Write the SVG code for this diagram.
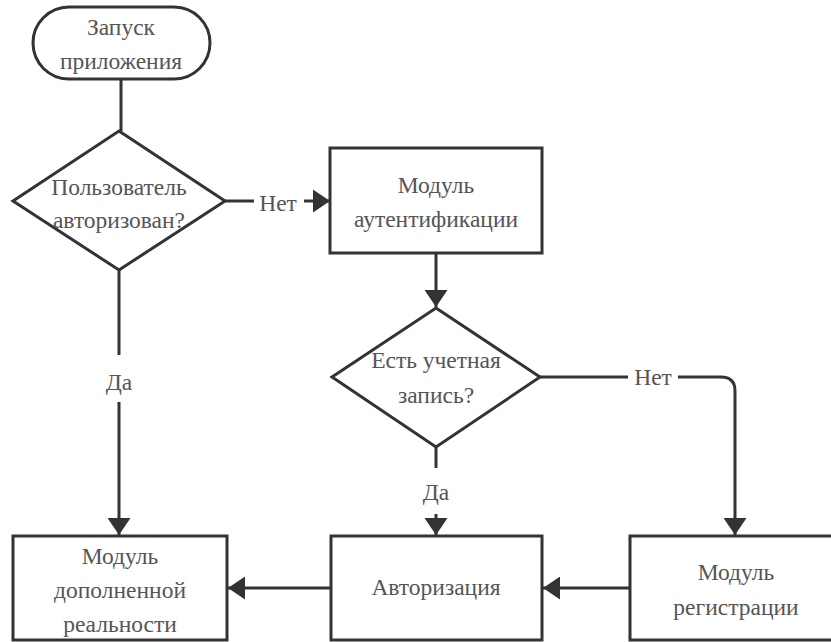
<svg xmlns="http://www.w3.org/2000/svg" width="831" height="642" viewBox="0 0 831 642" font-family="Liberation Serif, Times New Roman, serif">
<style>
.shape{fill:#fff;stroke:#333;stroke-width:3}
.edge{fill:none;stroke:#333;stroke-width:3}
.t{font-family:"Liberation Serif","Times New Roman",Times,serif;font-size:23.5px;fill:#555;text-anchor:middle}
</style>
<defs>
<marker id="arr" markerUnits="userSpaceOnUse" markerWidth="18" markerHeight="23" refX="17" refY="11.5" orient="auto">
<path d="M0,0 L17,11.5 L0,23 Z" fill="#333"/>
</marker>
</defs>
<g id="connectors">
<path class="edge" d="M121,79 V131"/>
<path class="edge" d="M224,201 H254"/>
<path class="edge" d="M304,201 H330" marker-end="url(#arr)"/>
<path class="edge" d="M119,270 V355"/>
<path class="edge" d="M119,402 V535" marker-end="url(#arr)"/>
<path class="edge" d="M436,253 V307" marker-end="url(#arr)"/>
<path class="edge" d="M540,377 H628"/>
<path class="edge" d="M678,377 H721 Q735,377 735,391 V535" marker-end="url(#arr)"/>
<path class="edge" d="M436,447 V468"/>
<path class="edge" d="M436,514 V535" marker-end="url(#arr)"/>
<path class="edge" d="M330,588 H228" marker-end="url(#arr)"/>
<path class="edge" d="M630,588 H543" marker-end="url(#arr)"/>
<text class="t" x="278" y="211">Нет</text>
<text class="t" x="119" y="390">Да</text>
<text class="t" x="653" y="385">Нет</text>
<text class="t" x="436" y="500">Да</text>
</g>
<g id="start">
<rect class="shape" x="33" y="7" width="177" height="72" rx="36" ry="36"/>
<text class="t" x="121" y="35">Запуск</text>
<text class="t" x="121" y="69">приложения</text>
</g>
<g id="decision-auth">
<polygon class="shape" points="119,131 225,201 119,270 13,201"/>
<text class="t" x="119" y="195">Пользователь</text>
<text class="t" x="119" y="228">авторизован?</text>
</g>
<g id="auth-module">
<rect class="shape" x="330" y="148" width="212" height="105"/>
<text class="t" x="436" y="193">Модуль</text>
<text class="t" x="436" y="227">аутентификации</text>
</g>
<g id="decision-account">
<polygon class="shape" points="436,308 540,377 436,447 332,377"/>
<text class="t" x="436" y="368">Есть учетная</text>
<text class="t" x="436" y="403">запись?</text>
</g>
<g id="ar-module">
<rect class="shape" x="13" y="536" width="214" height="104"/>
<text class="t" x="120" y="564">Модуль</text>
<text class="t" x="120" y="598">дополненной</text>
<text class="t" x="120" y="632">реальности</text>
</g>
<g id="authorization">
<rect class="shape" x="331" y="536" width="211" height="104"/>
<text class="t" x="436" y="595">Авторизация</text>
</g>
<g id="registration">
<rect class="shape" x="630" y="536" width="212" height="104"/>
<text class="t" x="736" y="580">Модуль</text>
<text class="t" x="736" y="615">регистрации</text>
</g>
</svg>
